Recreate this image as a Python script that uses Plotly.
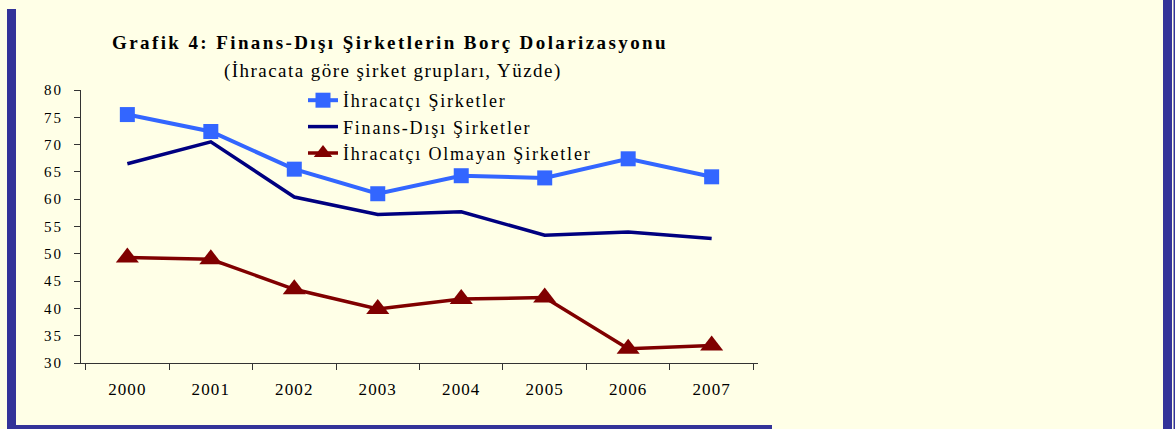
import plotly.graph_objects as go

years = ["2000", "2001", "2002", "2003", "2004", "2005", "2006", "2007"]
ihracatci = [75.5, 72.4, 65.5, 61.0, 64.3, 63.9, 67.4, 64.1]
finans_disi = [66.5, 70.5, 60.4, 57.2, 57.7, 53.4, 54.0, 52.8]
ihracatci_olmayan = [49.3, 49.0, 43.5, 39.9, 41.7, 42.0, 32.6, 33.2]
y_ticks = [30, 35, 40, 45, 50, 55, 60, 65, 70, 75, 80]

series_names = ["İhracatçı Şirketler", "Finans-Dışı Şirketler", "İhracatçı Olmayan Şirketler"]
title_text = "Grafik 4: Finans-Dışı Şirketlerin Borç Dolarizasyonu"
subtitle_text = "(İhracata göre şirket grupları, Yüzde)"

FONT = "Liberation Serif"
BG = "#FFFFE7"
BORDER = "#333399"


def sp(t, ls):
    return f'<span style="letter-spacing:{ls}px">{t}</span>'


W, H = 1175, 429
L, R, T, B = 81, 758, 90, 363


def px(x):
    return (x - L) / (R - L)


def py(y):
    return (B - y) / (B - T)


fig = go.Figure()
fig.add_trace(go.Scatter(
    x=years, y=ihracatci, name=sp(series_names[0], 1.8), mode="lines+markers",
    line=dict(color="#3366FF", width=4),
    marker=dict(symbol="square", size=15, color="#3366FF")))
fig.add_trace(go.Scatter(
    x=years, y=finans_disi, name=sp(series_names[1], 1.8), mode="lines",
    line=dict(color="#000080", width=3.5)))
fig.add_trace(go.Scatter(
    x=years, y=ihracatci_olmayan, name=sp(series_names[2], 1.8), mode="lines+markers",
    line=dict(color="#800000", width=3.5),
    marker=dict(symbol="triangle-up", size=20, color="#800000")))

shapes = [
    dict(type="rect", xref="paper", yref="paper", x0=px(7), x1=px(16), y0=py(440), y1=py(9),
         fillcolor=BORDER, line=dict(width=0), layer="above"),
    dict(type="rect", xref="paper", yref="paper", x0=px(7), x1=px(772), y0=py(440), y1=py(425),
         fillcolor=BORDER, line=dict(width=0), layer="above"),
    dict(type="rect", xref="paper", yref="paper", x0=px(1163), x1=px(1172), y0=py(440), y1=py(-2),
         fillcolor=BORDER, line=dict(width=0), layer="above"),
    dict(type="rect", xref="paper", yref="paper", x0=px(1173.5), x1=px(1180), y0=py(440), y1=py(-2),
         fillcolor=BORDER, line=dict(width=0), layer="above"),
]

annotations = [
    dict(text=f"<b>{sp(title_text, 2.4)}</b>", xref="paper", yref="paper",
         x=px(390), y=py(43), xanchor="center", yanchor="middle", showarrow=False,
         font=dict(family=FONT, size=19, color="#000000")),
    dict(text=sp(subtitle_text, 1.45), xref="paper", yref="paper",
         x=px(393), y=py(71), xanchor="center", yanchor="middle", showarrow=False,
         font=dict(family=FONT, size=19, color="#000000")),
]

fig.update_layout(
    width=W, height=H,
    margin=dict(l=L, r=W - R, t=T, b=H - B, pad=0, autoexpand=False),
    paper_bgcolor=BG, plot_bgcolor=BG,
    font=dict(family=FONT, size=15, color="#000000"),
    showlegend=True,
    legend=dict(x=px(303), y=py(82), xanchor="left", yanchor="top",
                bgcolor="rgba(0,0,0,0)", font=dict(family=FONT, size=18, color="#000000"),
                tracegroupgap=0),
    shapes=shapes,
    annotations=annotations,
    xaxis=dict(type="category", tickson="boundaries", ticks="outside", ticklen=6,
               tickcolor="#333333", showline=True, linecolor="#333333", linewidth=1,
               showgrid=False, zeroline=False, ticklabelstandoff=11, automargin=False,
               tickvals=years, ticktext=[sp(y, 1.1) for y in years],
               tickfont=dict(family=FONT, size=17, color="#000000")),
    yaxis=dict(range=[30, 80], ticks="outside", ticklen=6, tickcolor="#333333",
               showline=True, linecolor="#333333", linewidth=1, showgrid=False,
               zeroline=False, tickvals=y_ticks, ticktext=[sp(str(v), 2) for v in y_ticks],
               ticklabelstandoff=8, automargin=False,
               tickfont=dict(family=FONT, size=15, color="#000000")),
)

fig.write_html(
    "out.html",
    config={"displayModeBar": False},
    post_script="document.body.style.margin='0';document.body.style.overflow='hidden';",
)
